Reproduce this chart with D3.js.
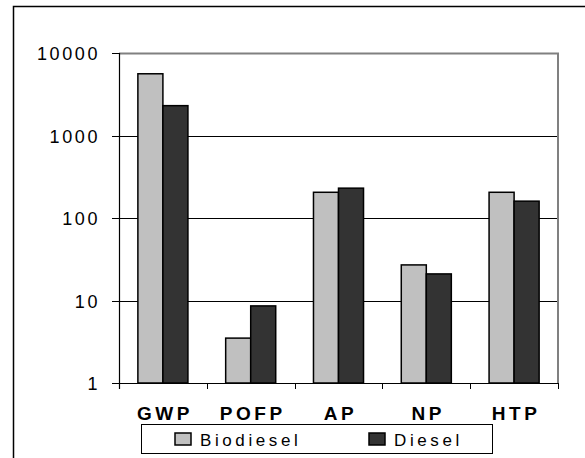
<!DOCTYPE html>
<html>
<head>
<meta charset="utf-8">
<script src="https://cdn.jsdelivr.net/npm/d3@7"></script>
<style>
  html, body { margin: 0; padding: 0; background: #fff; }
  svg { display: block; }
  text { font-family: "Liberation Sans", Arial, sans-serif; fill: #000; }
</style>
</head>
<body>
<svg id="chart" width="585" height="458"></svg>
<script>
// Impact categories and the two fuel series (log scale values)
const categories = ["GWP", "POFP", "AP", "NP", "HTP"];
const seriesNames = ["Biodiesel", "Diesel"];
const biodiesel = [5600, 3.5, 205, 27, 205];
const diesel = [2300, 8.6, 230, 21, 160];
const yTicks = [1, 10, 100, 1000, 10000];

const colors = { Biodiesel: "#c0c0c0", Diesel: "#333333" };

const svg = d3.select("#chart");

// outer chart frame (left and top edges visible)
svg.append("path")
  .attr("d", "M13.5,458 V6.5 H585")
  .attr("fill", "none")
  .attr("stroke", "#000")
  .attr("stroke-width", 1.5);

const plot = { left: 119, right: 558, top: 53, bottom: 383 };

const x0 = d3.scaleBand().domain(categories).range([plot.left, plot.right])
  .paddingInner(0.43).paddingOuter(0.215);
const x1 = d3.scaleBand().domain(seriesNames).range([0, x0.bandwidth()]).padding(0);
const y = d3.scaleLog().domain([1, 10000]).range([plot.bottom, plot.top]);

// gridlines
svg.append("g").selectAll("line")
  .data(yTicks.filter(v => v > 1 && v < 10000))
  .join("line")
  .attr("x1", plot.left).attr("x2", plot.right)
  .attr("y1", d => Math.round(y(d)) + 0.5).attr("y2", d => Math.round(y(d)) + 0.5)
  .attr("stroke", "#000").attr("stroke-width", 1);

// plot area border (top and right in grey)
svg.append("path")
  .attr("d", `M${plot.left},${plot.top + 0.5} H${plot.right} V${plot.bottom}`)
  .attr("fill", "none")
  .attr("stroke", "#808080")
  .attr("stroke-width", 2);

// bars
const rows = categories.map((c, i) => ({ cat: c, values: [
  { name: "Biodiesel", value: biodiesel[i] },
  { name: "Diesel", value: diesel[i] }
]}));

svg.append("g").selectAll("g")
  .data(rows)
  .join("g")
  .attr("transform", d => `translate(${x0(d.cat)},0)`)
  .selectAll("rect")
  .data(d => d.values)
  .join("rect")
  .attr("x", d => x1(d.name))
  .attr("y", d => y(d.value))
  .attr("width", x1.bandwidth())
  .attr("height", d => y(1) - y(d.value))
  .attr("fill", d => colors[d.name])
  .attr("stroke", "#000")
  .attr("stroke-width", 1.5);

// y axis
const yAxis = svg.append("g");
yAxis.append("line")
  .attr("x1", plot.left + 0.5).attr("x2", plot.left + 0.5)
  .attr("y1", plot.top).attr("y2", plot.bottom + 6)
  .attr("stroke", "#000").attr("stroke-width", 1.2);
yAxis.selectAll("line.tick")
  .data(yTicks)
  .join("line")
  .attr("class", "tick")
  .attr("x1", plot.left - 7).attr("x2", plot.left)
  .attr("y1", d => Math.round(y(d)) + 0.5).attr("y2", d => Math.round(y(d)) + 0.5)
  .attr("stroke", "#000");
yAxis.selectAll("text")
  .data(yTicks)
  .join("text")
  .attr("x", 100)
  .attr("y", d => y(d) + 7)
  .attr("text-anchor", "end")
  .attr("font-size", 18)
  .attr("letter-spacing", 2.6)
  .text(d => d3.format("d")(d));

// x axis
const xAxis = svg.append("g");
xAxis.append("line")
  .attr("x1", plot.left).attr("x2", plot.right)
  .attr("y1", plot.bottom + 0.5).attr("y2", plot.bottom + 0.5)
  .attr("stroke", "#000").attr("stroke-width", 1.2);
const bounds = d3.range(categories.length + 1).map(i => plot.left + i * x0.step());
xAxis.selectAll("line.tick")
  .data(bounds)
  .join("line")
  .attr("class", "tick")
  .attr("x1", d => Math.round(d) + 0.5).attr("x2", d => Math.round(d) + 0.5)
  .attr("y1", plot.bottom).attr("y2", plot.bottom + 6)
  .attr("stroke", "#000");
xAxis.selectAll("text")
  .data(categories)
  .join("text")
  .attr("x", d => x0(d) + x0.bandwidth() / 2 + 2)
  .attr("y", 420)
  .attr("text-anchor", "middle")
  .attr("font-size", 19)
  .attr("font-weight", "bold")
  .attr("letter-spacing", 3.5)
  .text(d => d);

// legend
const legend = svg.append("g");
legend.append("rect")
  .attr("x", 141.5).attr("y", 424.5)
  .attr("width", 351).attr("height", 29)
  .attr("fill", "#fff").attr("stroke", "#000").attr("stroke-width", 1);
const legendX = [175, 369];
const items = legend.selectAll("g.item")
  .data(seriesNames)
  .join("g")
  .attr("class", "item")
  .attr("transform", (d, i) => `translate(${legendX[i]},433)`);
items.append("rect")
  .attr("width", 16).attr("height", 12)
  .attr("fill", d => colors[d])
  .attr("stroke", "#000").attr("stroke-width", 1.5);
items.append("text")
  .attr("x", 25).attr("y", 12.5)
  .attr("font-size", 17)
  .attr("letter-spacing", 3.6)
  .text(d => d);
</script>
</body>
</html>
